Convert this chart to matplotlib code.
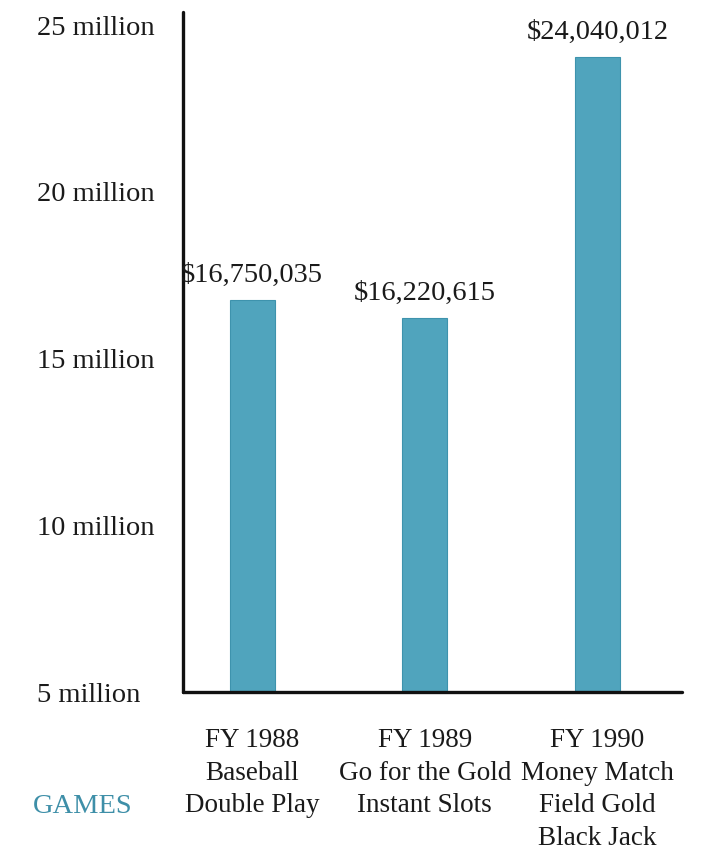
import matplotlib
matplotlib.use("Agg")
import matplotlib.pyplot as plt

plt.rcParams['font.family'] = ['Liberation Serif', 'DejaVu Serif']

categories = ["FY 1988\nBaseball\nDouble Play",
              "FY 1989\nGo for the Gold\nInstant Slots",
              "FY 1990\nMoney Match\nField Gold\nBlack Jack"]
values = [16750035, 16220615, 24040012]
value_labels = ["$16,750,035", "$16,220,615", "$24,040,012"]
tick_values = [5, 10, 15, 20, 25]
tick_labels = ["5 million", "10 million", "15 million", "20 million", "25 million"]

FS = 20.5
fig = plt.figure(figsize=(7.10, 8.55), dpi=100)
ax = fig.add_axes([183/710, (855-692)/855, (682-183)/710, (692-12)/855])

vals_m = [v / 1e6 for v in values]
x = list(range(len(categories)))
ax.bar(x, vals_m, width=0.26, color="#50A4BD", edgecolor="#3E93AD",
       linewidth=0.8, zorder=2)

for xi, v, lab in zip(x, vals_m, value_labels):
    ax.annotate(lab, (xi, v), xytext=(0, 9), textcoords="offset points",
                ha="center", va="bottom", fontsize=FS, color="#1a1a1a")

ax.set_ylim(5, 25.4)
ax.set_xlim(-0.40, 2.49)

ax.set_yticks(tick_values)
ax.set_yticklabels(tick_labels, fontsize=FS, color="#1a1a1a")
for t in ax.get_yticklabels():
    t.set_horizontalalignment("left")
ax.tick_params(axis="y", length=0, pad=105)

ax.set_xticks(x)
ax.set_xticklabels(categories, fontsize=19.5, color="#1a1a1a")
for t in ax.get_xticklabels():
    t.set_linespacing(1.40)
ax.tick_params(axis="x", length=0, pad=26)

for s in ["top", "right"]:
    ax.spines[s].set_visible(False)
for s in ["left", "bottom"]:
    ax.spines[s].set_linewidth(2.4)
    ax.spines[s].set_color("#111111")
    ax.spines[s].set_capstyle("round")

fig.text(33/710, 1 - 806/855, "GAMES", fontsize=FS, color="#3E8FA8",
         ha="left", va="center")

fig.savefig("out.png", dpi=100)
